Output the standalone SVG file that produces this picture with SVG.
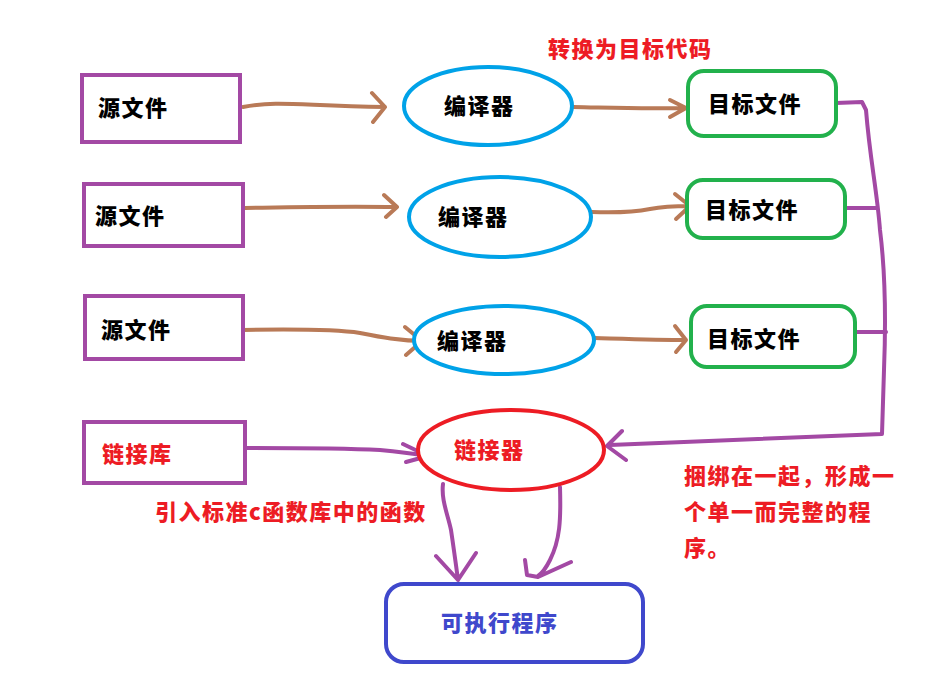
<svg xmlns="http://www.w3.org/2000/svg" width="951" height="691" viewBox="0 0 951 691">
<style>
text{font-family:"Noto Sans CJK SC","Liberation Sans",sans-serif;font-weight:900;font-size:22px;letter-spacing:1.5px}
.blk{fill:#000}
.red{fill:#ed1c24}
.blue{fill:#3f48cc}
.src{fill:#fff;stroke:#a349a4;stroke-width:4}
.cmp{fill:#fff;stroke:#00a2e8;stroke-width:4}
.tgt{fill:#fff;stroke:#22b14c;stroke-width:4}
.lnk{fill:#fff;stroke:#ed1c24;stroke-width:4}
.exe{fill:#fff;stroke:#3f48cc;stroke-width:4}
.br{fill:none;stroke:#b97a57;stroke-width:4;stroke-linecap:round;stroke-linejoin:round}
.pu{fill:none;stroke:#a349a4;stroke-width:4;stroke-linecap:round;stroke-linejoin:round}
</style>
<rect width="951" height="691" fill="#fff"/>
<g id="connectors">
<path class="br" d="M243,107 C280,100 300,106 385,107 M372,93 L385,107 L373,122"/>
<path class="br" d="M245,208 C300,207 340,206 397,207 M384,195 L397,207 L386,217"/>
<path class="br" d="M243,330 C300,329 340,330 360,333 C380,337 400,341 425,341 M405,327 L422,341 L406,355"/>
<path class="br" d="M573,107 C620,108 640,109 686,108 M670,100 L686,108 L670,117"/>
<path class="br" d="M592,212 C620,213 640,211 650,209 C665,206 675,206 690,206 M675,194 L690,206 L676,219"/>
<path class="br" d="M595,338 C630,339 660,340 686,340 M675,326 L686,340 L676,352"/>
<path class="pu" d="M836,103 L862,102 L866,110 C870,160 877,190 880,230 C885,270 886,320 884,370 L882,434 L610,445 M622,431 L607,446 L626,460"/>
<path class="pu" d="M846,208 L876,208"/>
<path class="pu" d="M856,332 L886,332"/>
<path class="pu" d="M247,448 C330,448 360,449 380,450 C400,452 415,454 428,456 M403,444 L428,456 L406,462"/>
<path class="pu" d="M443,484 C441,500 448,515 451,530 C454,550 456,565 458,580 M436,556 L458,580 L476,553"/>
<path class="pu" d="M560,487 C561,520 560,540 550,560 C545,570 541,574 538,576 M525,560 L527,575 L538,577 L571,562"/>
</g>
<g id="src1"><rect class="src" x="82" y="75" width="158" height="67"/><text class="blk" x="98" y="116">源文件</text></g>
<g id="src2"><rect class="src" x="84" y="184" width="159" height="62"/><text class="blk" x="95" y="224">源文件</text></g>
<g id="src3"><rect class="src" x="85" y="296" width="158" height="63"/><text class="blk" x="101" y="338">源文件</text></g>
<g id="lib"><rect class="src" x="84" y="422" width="161" height="61"/><text class="red" x="102" y="462">链接库</text></g>
<g id="cmp1"><ellipse class="cmp" cx="488" cy="106" rx="84" ry="39"/><text class="blk" x="444" y="114">编译器</text></g>
<g id="cmp2"><ellipse class="cmp" cx="500" cy="217" rx="91" ry="40"/><text class="blk" x="438" y="225">编译器</text></g>
<g id="cmp3"><ellipse class="cmp" cx="504" cy="340" rx="90" ry="34"/><text class="blk" x="437" y="349">编译器</text></g>
<g id="linker"><ellipse class="lnk" cx="511" cy="450" rx="93" ry="40"/><text class="red" x="454" y="458">链接器</text></g>
<g id="tgt1"><rect class="tgt" x="688" y="71" width="148" height="65" rx="16"/><text class="blk" x="708" y="112">目标文件</text></g>
<g id="tgt2"><rect class="tgt" x="687" y="180" width="158" height="58" rx="16"/><text class="blk" x="705" y="218">目标文件</text></g>
<g id="tgt3"><rect class="tgt" x="691" y="306" width="164" height="61" rx="16"/><text class="blk" x="707" y="347">目标文件</text></g>
<g id="exe"><rect class="exe" x="386" y="584" width="257" height="78" rx="18"/><text class="blue" x="441" y="631">可执行程序</text></g>
<g id="labels">
<text class="red" x="548" y="57">转换为目标代码</text>
<text class="red" x="155" y="520">引入标准c函数库中的函数</text>
<text class="red" x="684" y="484">捆绑在一起，形成一</text>
<text class="red" x="684" y="520">个单一而完整的程</text>
<text class="red" x="684" y="556">序。</text>
</g>
</svg>
